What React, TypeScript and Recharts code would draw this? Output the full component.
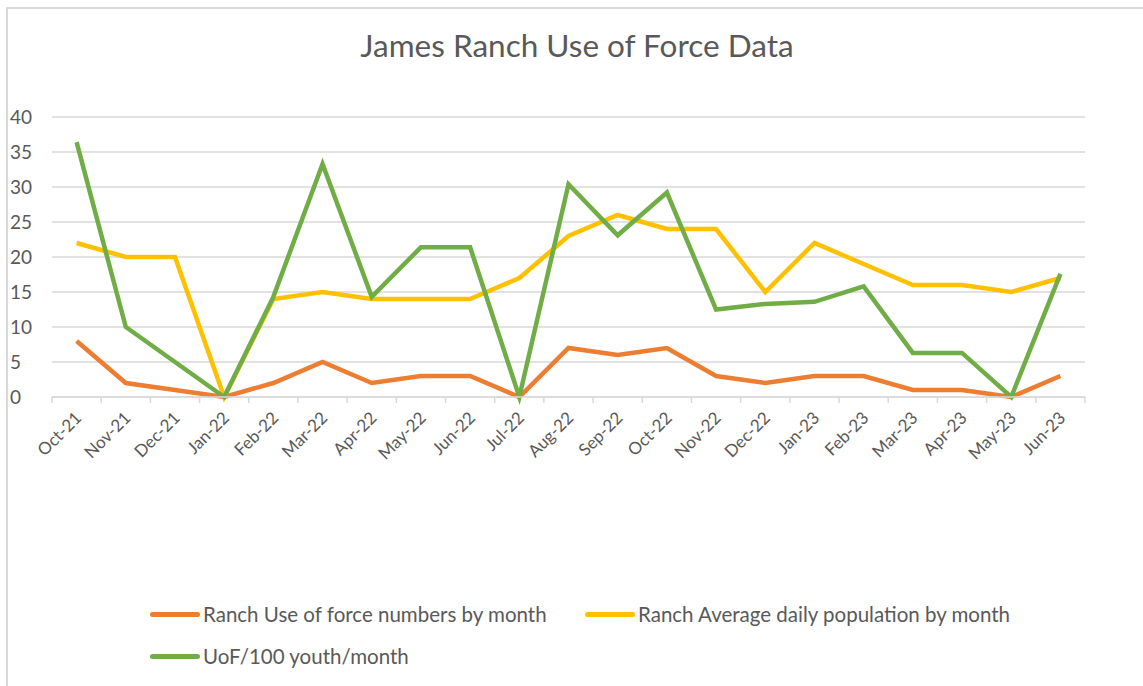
import React from "react";
import { LineChart, Line, XAxis, YAxis, CartesianGrid, Legend } from "recharts";

const months = [
  "Oct-21", "Nov-21", "Dec-21", "Jan-22", "Feb-22", "Mar-22", "Apr-22",
  "May-22", "Jun-22", "Jul-22", "Aug-22", "Sep-22", "Oct-22", "Nov-22",
  "Dec-22", "Jan-23", "Feb-23", "Mar-23", "Apr-23", "May-23", "Jun-23",
];

// Ranch Use of force numbers by month
const uofNumbers = [8, 2, 1, 0, 2, 5, 2, 3, 3, 0, 7, 6, 7, 3, 2, 3, 3, 1, 1, 0, 3];

// Ranch Average daily population by month
const avgPopulation = [22, 20, 20, 0, 14, 15, 14, 14, 14, 17, 23, 26, 24, 24, 15, 22, 19, 16, 16, 15, 17];

// UoF/100 youth/month
const uofPer100 = [36.4, 10, 5, 0, 14.3, 33.3, 14.3, 21.4, 21.4, 0, 30.4, 23.1, 29.2, 12.5, 13.3, 13.6, 15.8, 6.3, 6.3, 0, 17.6];

const yTicks = [0, 5, 10, 15, 20, 25, 30, 35, 40];
// tick marks sit on the category boundaries, like Excel
const bandTicks = Array.from({ length: months.length + 1 }, (_, i) => i);

const seriesInfo = [
  { key: "uof", name: "Ranch Use of force numbers by month", color: "#ED7D31" },
  { key: "adp", name: "Ranch Average daily population by month", color: "#FFC000" },
  { key: "rate", name: "UoF/100 youth/month", color: "#70AD47" },
];

const data = months.map((m, i) => ({
  month: m,
  idx: i + 0.5,
  uof: uofNumbers[i],
  adp: avgPopulation[i],
  rate: uofPer100[i],
}));

const FONT = "Lato, 'Open Sans', sans-serif";
const TEXT = "#595959";
const GRID = "#D9D9D9";

// plot box: x 52..1085, y 117..397
const PLOT_W = 1033;
const HALF_BAND = PLOT_W / months.length / 2;

const MonthTick = (props: any) => {
  const { x, y, payload } = props;
  const label = months[payload.value];
  if (!label) return <g />;
  return (
    <g transform={`translate(${x + HALF_BAND + 6},${y + 14})`}>
      <text textAnchor="end" transform="rotate(-45)" fill={TEXT} fontSize={17} fontFamily={FONT}>
        {label}
      </text>
    </g>
  );
};

const LegendBox = () => {
  const item = (s: typeof seriesInfo[number]) => (
    <div key={s.key} style={{ display: "flex", alignItems: "center" }}>
      <span style={{ display: "inline-block", width: 50, height: 5, borderRadius: 3, background: s.color, marginRight: 3 }} />
      <span style={{ color: TEXT, fontSize: 20.5, fontFamily: FONT, whiteSpace: "nowrap" }}>{s.name}</span>
    </div>
  );
  return (
    <div style={{ position: "relative", width: 1143, height: 80 }}>
      <div style={{ position: "absolute", left: 150, top: 0 }}>{item(seriesInfo[0])}</div>
      <div style={{ position: "absolute", left: 585, top: 0 }}>{item(seriesInfo[1])}</div>
      <div style={{ position: "absolute", left: 150, top: 42 }}>{item(seriesInfo[2])}</div>
    </div>
  );
};

export default function App() {
  return (
    <div style={{ position: "absolute", left: 0, top: 0, width: 1143, height: 686, background: "#fff", overflow: "hidden" }}>
      <div
        style={{
          position: "absolute",
          left: 6,
          top: 7,
          right: -10,
          bottom: -10,
          borderTop: `2px solid ${GRID}`,
          borderLeft: `2px solid ${GRID}`,
        }}
      />
      <div
        style={{
          position: "absolute",
          top: 26,
          left: 0,
          width: 1154,
          textAlign: "center",
          fontFamily: FONT,
          fontSize: 31.5,
          color: TEXT,
        }}
      >
        James Ranch Use of Force Data
      </div>
      <div style={{ position: "absolute", left: 0, top: 0 }}>
        <LineChart
          width={1143}
          height={686}
          data={data}
          margin={{ top: 117, right: 58, left: 0, bottom: 199 }}
        >
          <CartesianGrid horizontal vertical={false} stroke={GRID} strokeWidth={1.5} />
          <XAxis
            dataKey="idx"
            type="number"
            domain={[0, months.length]}
            ticks={bandTicks}
            interval={0}
            tick={<MonthTick />}
            tickSize={6}
            tickLine={{ stroke: GRID, strokeWidth: 1.5 }}
            axisLine={{ stroke: GRID, strokeWidth: 1.5 }}
            height={90}
          />
          <YAxis
            domain={[0, 40]}
            ticks={yTicks}
            interval={0}
            width={52}
            axisLine={false}
            tickLine={false}
            tick={{ fill: TEXT, fontSize: 19, fontFamily: FONT, textAnchor: "start", dx: -34 }}
          />
          {seriesInfo.map((s) => (
            <Line
              key={s.key}
              type="linear"
              dataKey={s.key}
              name={s.name}
              stroke={s.color}
              strokeWidth={4.5}
              dot={false}
              activeDot={false}
              isAnimationActive={false}
            />
          ))}
          <Legend
            layout="horizontal"
            verticalAlign="middle"
            align="center"
            content={() => <LegendBox />}
            wrapperStyle={{ left: 0, top: 602, width: 1143 }}
          />
        </LineChart>
      </div>
    </div>
  );
}
